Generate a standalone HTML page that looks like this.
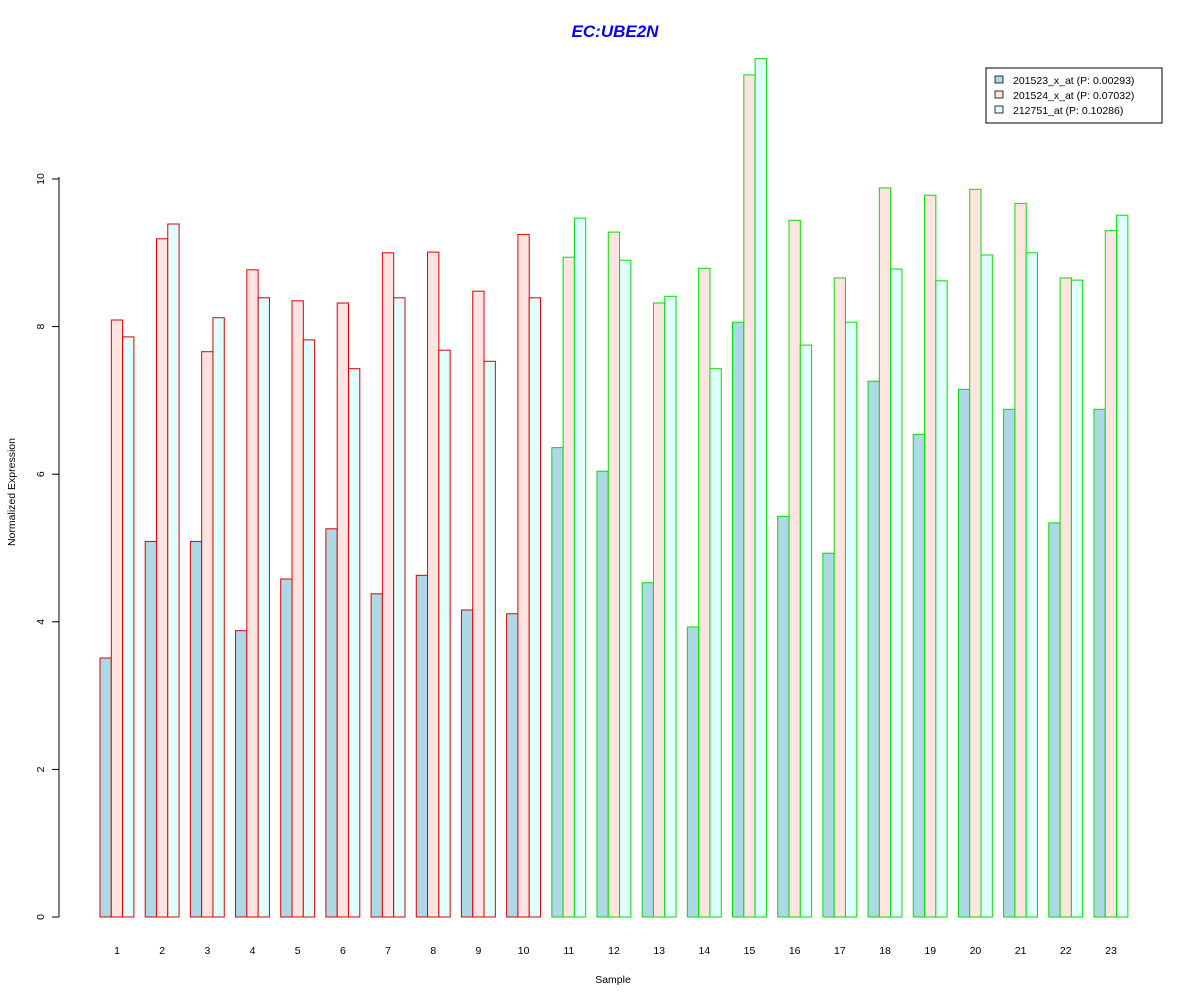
<!DOCTYPE html><html><head><style>body{margin:0;background:#fff}</style></head><body>
<svg width="1200" height="1000" xmlns="http://www.w3.org/2000/svg" font-family="Liberation Sans, sans-serif">
<rect width="1200" height="1000" fill="#fff"/>
<text x="615" y="37" text-anchor="middle" font-size="17" font-weight="bold" font-style="italic" fill="#0000ff">EC:UBE2N</text>
<g id="bars"></g>
<line x1="59" y1="177" x2="59" y2="917" stroke="#000"/>
<g id="yt" font-size="10.5"></g>
<g id="xt" font-size="10.5"></g>
<text x="613" y="983" text-anchor="middle" font-size="10.5">Sample</text>
<text transform="translate(15,492) rotate(-90)" text-anchor="middle" font-size="10.5">Normalized Expression</text>
<rect x="986" y="68" width="176" height="55" fill="#fff" stroke="#000"/>
<rect x="995" y="76" width="8" height="7" fill="#add8e6" stroke="#000" stroke-width="0.8"/>
<rect x="995" y="91" width="8" height="7" fill="#ffe4e1" stroke="#000" stroke-width="0.8"/>
<rect x="995" y="106" width="8" height="7" fill="#e0ffff" stroke="#000" stroke-width="0.8"/>
<text x="1013" y="84" font-size="10.5">201523_x_at (P: 0.00293)</text>
<text x="1013" y="99" font-size="10.5">201524_x_at (P: 0.07032)</text>
<text x="1013" y="114" font-size="10.5">212751_at (P: 0.10286)</text>
</svg>
<script>
var d=[[3.51,8.09,7.86],[5.09,9.19,9.39],[5.09,7.66,8.12],[3.88,8.77,8.39],[4.58,8.35,7.82],[5.26,8.32,7.43],[4.38,9.0,8.39],[4.63,9.01,7.68],[4.16,8.48,7.53],[4.11,9.25,8.39],[6.36,8.94,9.47],[6.04,9.28,8.9],[4.53,8.32,8.41],[3.93,8.79,7.43],[8.06,11.41,11.63],[5.43,9.44,7.75],[4.93,8.66,8.06],[7.26,9.88,8.78],[6.54,9.78,8.62],[7.15,9.86,8.97],[6.88,9.67,9.0],[5.34,8.66,8.63],[6.88,9.3,9.51]];
var ns="http://www.w3.org/2000/svg",b=document.getElementById('bars'),fills=['#add8e6','#ffe4e1','#e0ffff'];
var y0=917,k=73.8,s=45.18,w=11.3;
d.forEach(function(g,i){var st=i<10?'#e00000':'#00e000';g.forEach(function(v,j){var r=document.createElementNS(ns,'rect');var x=100+i*s+j*w;r.setAttribute('x',x.toFixed(2));r.setAttribute('y',(y0-v*k).toFixed(1));r.setAttribute('width',w.toFixed(2));r.setAttribute('height',(v*k).toFixed(1));r.setAttribute('fill',fills[j]);r.setAttribute('stroke',st);b.appendChild(r);});
var t=document.createElementNS(ns,'text');t.setAttribute('x',100+i*s+17);t.setAttribute('y',954);t.setAttribute('text-anchor','middle');t.textContent=i+1;document.getElementById('xt').appendChild(t);});
var yt=document.getElementById('yt');
for(var v=0;v<=10;v+=2){var y=y0-v*k;var l=document.createElementNS(ns,'line');l.setAttribute('x1',52);l.setAttribute('x2',59);l.setAttribute('y1',y);l.setAttribute('y2',y);l.setAttribute('stroke','#000');yt.appendChild(l);
var t=document.createElementNS(ns,'text');t.setAttribute('transform','translate(44,'+y+') rotate(-90)');t.setAttribute('text-anchor','middle');t.textContent=v;yt.appendChild(t);}
</script></body></html>
